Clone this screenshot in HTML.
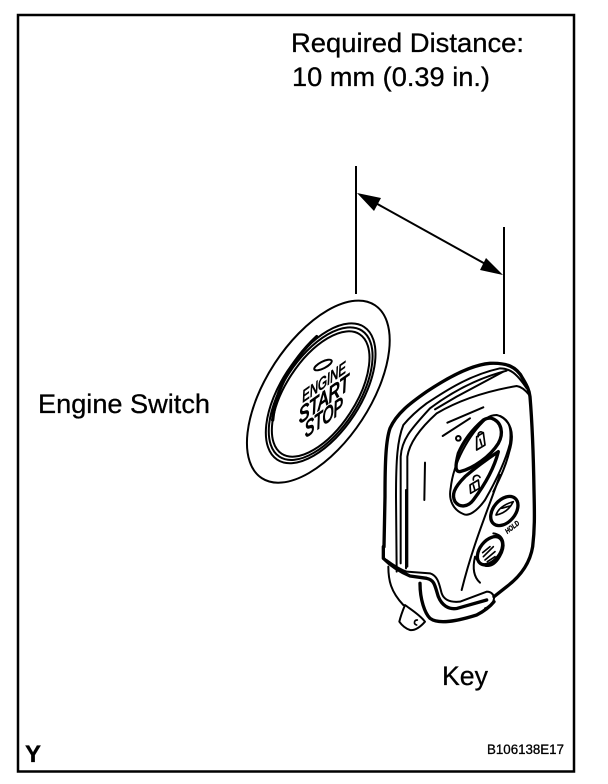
<!DOCTYPE html>
<html><head><meta charset="utf-8"><style>
html,body{margin:0;padding:0;background:#fff}
svg{display:block}
text{font-family:"Liberation Sans",sans-serif;fill:#000;stroke:#000;stroke-width:.3px}
.l{fill:none;stroke:#000;stroke-width:6;stroke-linecap:round;stroke-linejoin:round}
.t{stroke-width:10}
.n{stroke-width:5}
</style></head><body>
<svg width="608" height="784" viewBox="0 0 608 784" xmlns="http://www.w3.org/2000/svg">
<rect width="608" height="784" fill="#fff"/>
<rect x="18" y="15" width="556" height="756.500" fill="none" stroke="#000" stroke-width="2.500"/>
<text x="291" y="52" font-size="27" textLength="233" lengthAdjust="spacingAndGlyphs">Required Distance:</text>
<text x="292" y="86" font-size="27" textLength="198" lengthAdjust="spacingAndGlyphs">10 mm (0.39 in.)</text>
<text x="38" y="413" font-size="27" textLength="172" lengthAdjust="spacingAndGlyphs">Engine Switch</text>
<text x="442" y="685" font-size="27" textLength="46" lengthAdjust="spacingAndGlyphs">Key</text>
<text x="25" y="762" font-size="24" font-weight="bold">Y</text>
<text x="487" y="754" font-size="14" textLength="77" lengthAdjust="spacingAndGlyphs">B106138E17</text>

<path d="M356 166V294M504 227V354" stroke="#000" stroke-width="2" fill="none"/>
<path d="M372 201L489 266" stroke="#000" stroke-width="2" fill="none"/>
<path d="M357 193L381 198L374 211Z M503 275L486 258L480 270Z" fill="#000"/>

<!-- Engine switch -->
<g transform="translate(230,280) scale(.33333)">
<g class="l">
<ellipse cx="265" cy="335" rx="310" ry="156" transform="rotate(-56.800 265 335)"/>
<ellipse cx="272" cy="340" rx="238" ry="120" transform="rotate(-56.800 272 340)"/>
<ellipse cx="272" cy="341" rx="226" ry="113" transform="rotate(-56.800 272 341)"/>
<ellipse cx="272" cy="342" rx="214" ry="105" transform="rotate(-56.800 272 342)"/>
<path class="t" d="M128 420C135 340 175 250 260 170"/>
<ellipse cx="279" cy="255" rx="29" ry="10" transform="rotate(-27 279 255)"/>
</g>
<text font-size="42" font-style="italic" textLength="160" lengthAdjust="spacingAndGlyphs" style="stroke-width:2px" transform="translate(218,368) rotate(-35) skewX(-30)">ENGINE</text>
<text font-size="56" font-style="italic" textLength="185" lengthAdjust="spacingAndGlyphs" style="stroke-width:3px" transform="translate(208,432) rotate(-35) skewX(-30)">START</text>
<text font-size="56" font-style="italic" textLength="140" lengthAdjust="spacingAndGlyphs" style="stroke-width:3px" transform="translate(226,474) rotate(-35) skewX(-30)">STOP</text>
</g>

<!-- Key: upper -->
<g transform="translate(370,350) scale(.33333)" class="l">
<path class="t" d="M42 590L45 440C45 330 48 270 60 235C80 190 120 160 170 125C230 85 300 45 360 40C410 38 440 50 458 85C470 105 478 120 480 140C485 200 490 300 492 420C494 500 494 540 488 590C480 640 450 680 410 710L372 740"/>
<path d="M80 665L78 440C78 330 82 270 100 225C125 195 150 175 170 160C230 120 300 75 390 55C420 55 440 70 470 115"/>
<path d="M92 640V320C95 270 120 240 180 175C240 130 320 85 410 62"/>
<path d="M112 650V320C118 280 150 235 200 190C260 155 340 125 440 108C455 110 470 125 478 135"/>
<path d="M165 338L163 450"/>
<path d="M195 178L260 140L400 65"/>
<path d="M232 218L340 172"/>
<path d="M218 258L300 205"/>
<circle cx="265" cy="265" r="7"/>
</g>

<!-- Key: button cluster -->
<g transform="translate(430,400) scale(.33333)" class="l">
<path d="M200 45C240 55 245 85 240 130C230 170 205 230 165 300C140 335 115 350 100 342C70 330 55 300 62 265C70 190 115 105 170 55C180 47 190 45 200 45Z"/>
<path d="M210 48C250 70 252 110 238 155C228 195 215 225 190 275"/>
<path class="t" d="M185 55C215 65 222 100 205 130C180 170 130 205 90 215C75 215 75 200 85 160C100 125 125 90 160 60C170 55 178 53 185 55Z"/>
<path class="t" d="M205 155C195 195 175 240 130 300C115 320 90 325 75 305C65 285 70 265 105 230C140 200 175 175 205 155Z"/>
<path d="M210 225C170 340 130 430 95 570"/>
<ellipse class="t" cx="223" cy="333" rx="50" ry="33" transform="rotate(-50 223 333)"/>
<ellipse class="t" cx="180" cy="452" rx="48" ry="30" transform="rotate(-52 180 452)"/>
<path d="M190 400C225 405 228 440 210 470C190 505 160 510 135 470C128 500 130 530 150 548"/>
<path class="n" d="M140 110L160 98L165 135L140 150ZM145 110C142 95 155 92 160 100M150 118L155 135"/>
<path class="n" d="M120 255L145 240L148 265L122 280ZM130 240C128 225 145 222 150 232M130 255L135 272"/>
<path class="n" d="M198 345C205 325 225 312 250 305C240 325 225 340 198 345ZM215 325L240 318"/>
<path class="n" d="M160 470L190 440M165 480L195 455M158 458L180 440M172 485L195 470"/>
<text font-size="22" font-weight="bold" font-style="italic" textLength="48" lengthAdjust="spacingAndGlyphs" style="stroke-width:1px" transform="translate(232,402) rotate(-38)">HOLD</text>
</g>

<!-- Key: lower -->
<g transform="translate(370,490) scale(.33333)" class="l">
<path class="t" d="M40 170L40 205C60 225 90 245 120 258L170 265C195 270 195 290 205 320C215 345 235 360 262 355L350 330"/>
<path d="M50 210C70 225 90 238 110 245L180 250C205 258 208 285 215 310C222 330 240 338 270 335L350 305C365 305 372 315 372 325C370 340 360 350 345 355"/>
<path d="M55 230C55 270 62 305 100 345"/>
<path class="t" d="M150 280C150 330 165 370 180 385C200 400 240 400 320 375C345 362 360 350 372 335"/>
<path d="M105 345C125 360 150 375 165 395C150 412 135 422 120 420C105 415 95 405 88 395C92 378 98 362 105 345Z"/>
<path class="n" d="M142 390C132 390 130 402 140 405"/>
<path d="M108 0V235"/>
</g>
</svg>
</body></html>
